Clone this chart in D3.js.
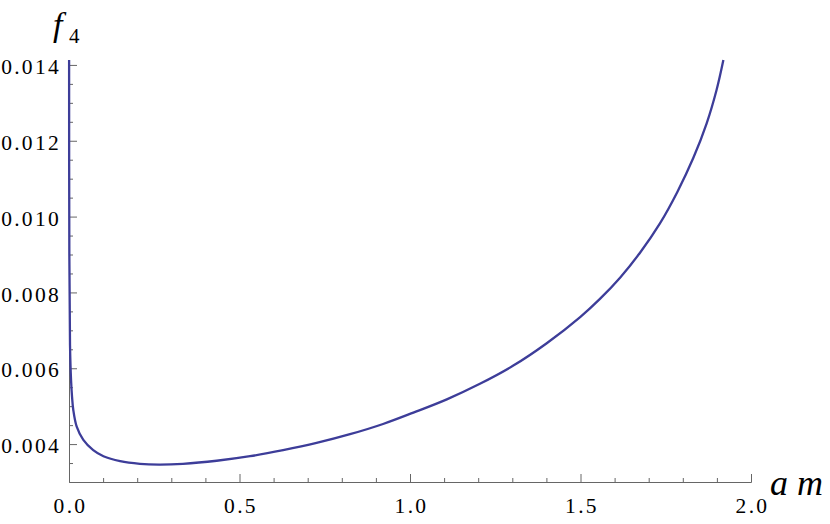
<!DOCTYPE html>
<html><head><meta charset="utf-8">
<script src="https://cdn.jsdelivr.net/npm/d3@7"></script>
<style>body{margin:0;background:#fff}svg{display:block}</style>
</head><body>
<svg id="c" width="830" height="524"></svg>
<script>
const xVals = [0.0003,0.001,0.003,0.006,0.009,0.0126,0.0226,0.042,0.071,0.101,0.150,0.208,0.264,0.334,0.433,0.531,0.628,0.726,0.824,0.921,1.010,1.108,1.205,1.303,1.401,1.499,1.557,1.616,1.674,1.733,1.784,1.831,1.870,1.899,1.919];
const yVals = [0.01413,0.0090,0.0066,0.00569,0.00524,0.00490,0.00446,0.00411,0.00384,0.00368,0.00355,0.00348,0.00346,0.00348,0.00356,0.00368,0.00384,0.00403,0.00426,0.00453,0.00483,0.00518,0.00559,0.00607,0.00666,0.00735,0.00783,0.00839,0.00904,0.00982,0.01065,0.01155,0.01246,0.01334,0.01413];
const xTicks = [0.0,0.5,1.0,1.5,2.0];
const xTickLabels = ["0.0","0.5","1.0","1.5","2.0"];
const yTicks = [0.004,0.006,0.008,0.010,0.012,0.014];
const yTickLabels = ["0.004","0.006","0.008","0.010","0.012","0.014"];

const svg = d3.select("#c");
const x = d3.scaleLinear().domain([0,2]).range([69,751]);
const y = d3.scaleLinear().domain([0.003,0.01413]).range([482,60]);
const axisColor = "#666";
const font = "'Liberation Serif','Times New Roman',serif";

const xMinor = d3.range(0,21).map(i=>i/10).filter(v=>Math.abs(v*2-Math.round(v*2))>1e-6);
const yMinor = d3.range(7,29).map(i=>i*0.0005).filter(v=>Math.abs(v*1000/2-Math.round(v*1000/2))>1e-6);

const gx = svg.append("g").attr("transform","translate(0,482)");
gx.call(d3.axisBottom(x).tickValues(xTicks).tickFormat((d,i)=>xTickLabels[i]).tickSizeInner(-8).tickSizeOuter(0));
const gxm = svg.append("g").attr("transform","translate(0,482)");
gxm.call(d3.axisBottom(x).tickValues(xMinor).tickFormat("").tickSizeInner(-4).tickSizeOuter(0));

const gy = svg.append("g").attr("transform","translate(69,0)");
gy.call(d3.axisLeft(y).tickValues(yTicks).tickFormat((d,i)=>yTickLabels[i]).tickSizeInner(-8).tickSizeOuter(0));
const gym = svg.append("g").attr("transform","translate(69,0)");
gym.call(d3.axisLeft(y).tickValues(yMinor).tickFormat("").tickSizeInner(-4).tickSizeOuter(0));

svg.selectAll(".domain").attr("stroke",axisColor).attr("stroke-width",1);
svg.selectAll(".tick line").attr("stroke",axisColor).attr("stroke-width",1);
svg.selectAll(".tick text").attr("font-family",font).attr("font-size",21.5).attr("fill","#000").attr("letter-spacing","2.3px");
gy.selectAll(".tick text").attr("x",-8).attr("dy","0.4em");
gx.selectAll(".tick text").attr("y",31).attr("dy",0).attr("dx","1px");

const data = xVals.map((v,i)=>[v,yVals[i]]);
svg.append("path").datum(data)
  .attr("fill","none").attr("stroke","#3d3d99").attr("stroke-width",2.3)
  .attr("d", d3.line().x(d=>x(d[0])).y(d=>y(d[1])).curve(d3.curveCatmullRom.alpha(0.5)));

svg.append("text").attr("x",770).attr("y",495).attr("font-family",font).attr("font-style","italic").attr("font-size",36).text("a m");
const fl = svg.append("text").attr("x",53).attr("y",36).attr("font-family",font);
fl.append("tspan").attr("font-style","italic").attr("font-size",34).text("f");
fl.append("tspan").attr("x",69).attr("y",43).attr("font-size",21).text("4");
</script>
</body></html>
